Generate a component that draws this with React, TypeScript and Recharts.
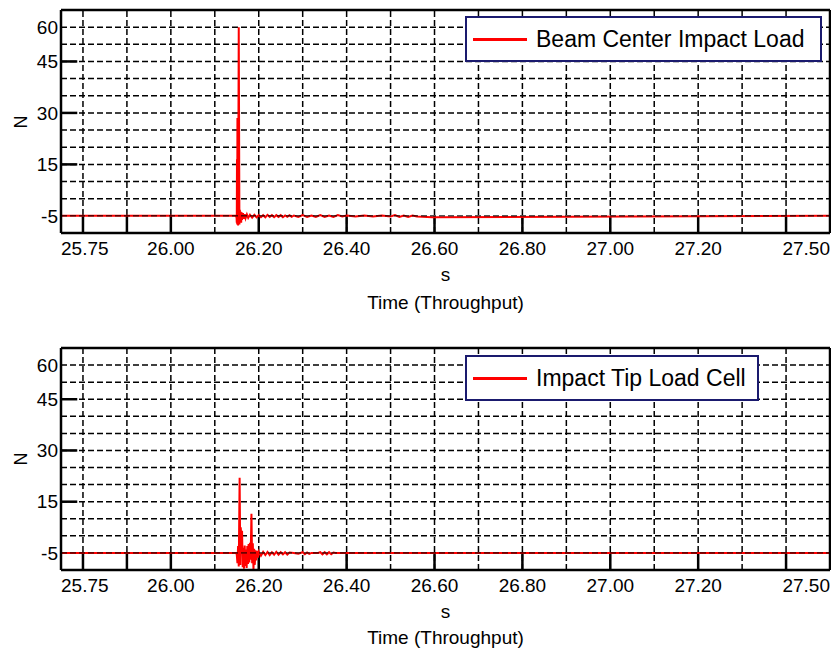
import React from 'react'
import { LineChart, Line, XAxis, YAxis, ReferenceLine } from 'recharts'

// Beam Center Impact Load (N) against time (s)
const beamTime = [
  25.75, 26.148, 26.1495, 26.15, 26.1505, 26.151, 26.1515, 26.152, 26.1525, 26.153,
  26.1545, 26.156, 26.157, 26.158, 26.159, 26.16, 26.161, 26.162, 26.164, 26.166,
  26.168, 26.17, 26.173, 26.176, 26.18, 26.185, 26.19, 26.195, 26.2, 26.205,
  26.21, 26.215, 26.22, 26.225, 26.23, 26.235, 26.24, 26.245, 26.25, 26.255,
  26.26, 26.265, 26.27, 26.275, 26.28, 26.29, 26.3, 26.31, 26.32, 26.33,
  26.34, 26.35, 26.36, 26.37, 26.38, 26.39, 26.4, 26.42, 26.44, 26.46,
  26.48, 26.5, 26.51, 26.52, 26.53, 26.54, 26.55, 26.56, 26.595, 27.5,
]
const beamLoad = [
  0, 0, -0.5, -2.0, 16.5, -2.5, 28.5, -1.0, 8.0, -2.8,
  55.0, -2.5, 1.8, -1.5, 1.2, -2.0, 1.0, -1.2, 0.8, -0.9,
  0.5, -0.7, 0.4, -0.6, 0.3, -0.5, 0.3, -0.4, 0.2, -0.4,
  0.2, -0.4, 0.3, -0.3, 0.2, -0.4, 0.2, -0.3, 0.2, -0.4,
  0.1, -0.3, 0.2, -0.3, 0.1, -0.3, 0.2, -0.3, 0.1, -0.3,
  0.2, -0.3, 0.1, -0.3, 0.2, -0.2, 0.1, -0.2, 0.1, -0.2,
  0.1, -0.2, 0.2, -0.3, 0.1, -0.3, 0.1, -0.2, -0.4, 0,
]

// Impact Tip Load Cell (N) against time (s)
const tipTime = [
  25.75, 26.149, 26.15, 26.1515, 26.153, 26.1545, 26.1565, 26.158, 26.159, 26.1605,
  26.162, 26.1635, 26.165, 26.1665, 26.168, 26.1695, 26.171, 26.1725, 26.174, 26.1755,
  26.177, 26.1785, 26.18, 26.1815, 26.1834, 26.185, 26.1865, 26.188, 26.1895, 26.191,
  26.1925, 26.194, 26.196, 26.198, 26.2, 26.205, 26.21, 26.215, 26.22, 26.225,
  26.23, 26.235, 26.24, 26.245, 26.25, 26.255, 26.26, 26.265, 26.27, 26.28,
  26.29, 26.3, 26.305, 26.31, 26.315, 26.32, 26.335, 26.34, 26.345, 26.35,
  26.355, 26.36, 26.365, 26.37, 26.375, 27.5,
]
const tipLoad = [
  0, 0, -0.5, -3.0, 2.0, -4.0, 22.0, -3.5, 7.5, 4.5,
  6.5, -4.2, 1.5, -4.6, 2.2, -3.8, 1.0, -4.4, 2.0, -3.2,
  2.6, -2.8, 3.0, -2.0, 11.5, -3.0, 2.8, -4.7, 1.2, -3.5,
  0.8, -2.2, 0.6, -1.4, 0.4, -0.8, 0.3, -0.6, 0.3, -0.6,
  0.2, -0.5, 0.3, -0.5, 0.2, -0.4, 0.2, -0.5, 0.1, 0,
  -0.2, 0.2, -0.4, 0.1, -0.3, 0, 0, 0.2, -0.4, 0.2,
  -0.4, 0.2, -0.4, 0.1, 0, 0,
]

const xTicks = [25.75, 26.0, 26.2, 26.4, 26.6, 26.8, 27.0, 27.2, 27.5]
// LabVIEW pulls the end labels one grid step inside the plot
const yTickPos = [0, 15, 30, 45, 55]
const yTickLabels = ['-5', '15', '30', '45', '60']
const gridX = [25.8, 25.9, 26.0, 26.1, 26.2, 26.3, 26.4, 26.5, 26.6, 26.7, 26.8, 26.9, 27.0, 27.1, 27.2, 27.3, 27.4]
const gridY = [5, 10, 15, 20, 25, 30, 35, 40, 45, 50, 55]
const majorX = [25.8, 25.9, 26.0, 26.2, 26.4, 26.6, 26.8, 27.0, 27.2, 27.4]
const majorY = [15, 30, 45]

const X_MIN = 25.75
const X_MAX = 27.5
const Y_MIN = -5
const Y_MAX = 60

const FONT = '"Liberation Sans", Arial, sans-serif'
const W = 831
const H = 338
const AXIS_H = 30

function XTick({ x, y, payload, index }: any) {
  const anchor = index === 0 ? 'start' : index === xTicks.length - 1 ? 'end' : 'middle'
  return (
    <text x={x} y={y} dy="0.71em" textAnchor={anchor} fill="#000" fontSize={19} fontFamily={FONT}>
      {payload.value.toFixed(2)}
    </text>
  )
}

type PanelProps = {
  top: number
  plotBottom: number
  times: number[]
  loads: number[]
  name: string
  legendW: number
  legendTop: number
  sY: number
  timeY: number
}

function Panel({ top, plotBottom, times, loads, name, legendW, legendTop, sY, timeY }: PanelProps) {
  const data = times.map((t, i) => ({ t, v: loads[i] }))
  const plotTop = 10
  const grid = { stroke: '#000', strokeDasharray: '6 3', strokeWidth: 1.5 }
  const solid = { stroke: '#000', strokeWidth: 2.5 }

  return (
    <div style={{ position: 'absolute', left: 0, top, width: W, height: H, fontFamily: FONT }}>
      <LineChart
        width={W}
        height={H}
        data={data}
        margin={{ top: plotTop, right: 1, left: 0, bottom: H - plotBottom - AXIS_H }}
      >
        <XAxis
          dataKey="t"
          type="number"
          domain={[X_MIN, X_MAX]}
          ticks={xTicks}
          interval={0}
          allowDataOverflow
          axisLine={false}
          tickLine={false}
          tickSize={0}
          tickMargin={9}
          height={AXIS_H}
          tick={<XTick />}
        />
        <YAxis
          type="number"
          domain={[Y_MIN, Y_MAX]}
          ticks={yTickPos}
          interval={0}
          allowDataOverflow
          width={61}
          axisLine={false}
          tickLine={false}
          tickSize={0}
          tickMargin={3}
          tickFormatter={(v: number) => yTickLabels[yTickPos.indexOf(v)]}
          tick={{ fill: '#000', fontSize: 19, fontFamily: FONT }}
        />
        {gridY.map((v) => (
          <ReferenceLine key={'gy' + v} y={v} {...grid} />
        ))}
        {gridX.map((v) => (
          <ReferenceLine key={'gx' + v} x={v} {...grid} />
        ))}
        {majorX.map((v) => (
          <ReferenceLine key={'mx' + v} segment={[{ x: v, y: Y_MIN }, { x: v, y: 0 }]} {...solid} />
        ))}
        {majorY.map((v) => (
          <ReferenceLine key={'my' + v} segment={[{ x: X_MIN, y: v }, { x: X_MIN + 0.037, y: v }]} {...solid} />
        ))}
        <Line
          dataKey="v"
          type="linear"
          stroke="#ff0000"
          strokeWidth={2}
          dot={false}
          activeDot={false}
          isAnimationActive={false}
        />
        <ReferenceLine y={0} stroke="#000" strokeDasharray="6 3" strokeWidth={1} zIndex={1000} />
        <ReferenceLine x={X_MIN} {...solid} zIndex={1000} />
        <ReferenceLine x={X_MAX} {...solid} zIndex={1000} />
        <ReferenceLine y={Y_MIN} {...solid} zIndex={1000} />
        <ReferenceLine y={Y_MAX} {...solid} zIndex={1000} />
      </LineChart>

      <div
        style={{
          position: 'absolute',
          left: 465,
          top: legendTop,
          width: legendW,
          height: 46,
          boxSizing: 'border-box',
          border: '2px solid #1a1a6e',
          background: '#fff',
          display: 'flex',
          alignItems: 'center',
        }}
      >
        <div style={{ marginLeft: 6, width: 54, height: 3, background: '#ff0000' }} />
        <span style={{ marginLeft: 9, fontSize: 23, color: '#000', whiteSpace: 'nowrap' }}>{name}</span>
      </div>

      <div
        style={{
          position: 'absolute',
          left: 21,
          top: (plotTop + plotBottom) / 2,
          transform: 'translate(-50%, -50%) rotate(-90deg)',
          fontSize: 18,
          color: '#000',
        }}
      >
        N
      </div>
      <div style={{ position: 'absolute', left: 0, width: 891, top: sY - 11, textAlign: 'center', fontSize: 19, lineHeight: '22px' }}>
        s
      </div>
      <div style={{ position: 'absolute', left: 0, width: 891, top: timeY - 11, textAlign: 'center', fontSize: 19, lineHeight: '22px' }}>
        Time (Throughput)
      </div>
    </div>
  )
}

export default function App() {
  return (
    <div style={{ position: 'absolute', left: 0, top: 0, width: W, height: 654, background: '#fff' }}>
      <Panel
        top={0}
        plotBottom={233}
        times={beamTime}
        loads={beamLoad}
        name="Beam Center Impact Load"
        legendW={357}
        legendTop={16}
        sY={275}
        timeY={303}
      />
      <Panel
        top={338}
        plotBottom={232}
        times={tipTime}
        loads={tipLoad}
        name="Impact Tip Load Cell"
        legendW={294}
        legendTop={17}
        sY={274}
        timeY={300}
      />
    </div>
  )
}
